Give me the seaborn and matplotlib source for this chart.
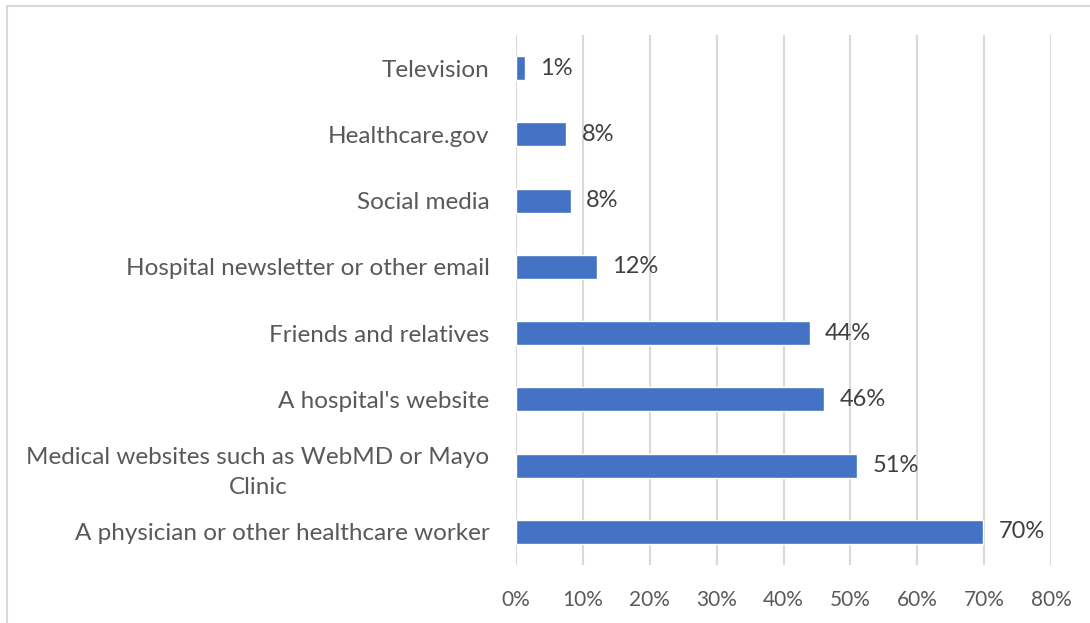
import pandas as pd
import matplotlib.pyplot as plt
import seaborn as sns

# data
sources = ['Television', 'Healthcare.gov', 'Social media', 'Hospital newsletter or other email',
           'Friends and relatives', "A hospital's website",
           'Medical websites such as WebMD or Mayo\nClinic', 'A physician or other healthcare worker']
shares = [1.3, 7.5, 8.2, 12.1, 43.9, 46.1, 51.0, 69.9]
share_labels = ['1%', '8%', '8%', '12%', '44%', '46%', '51%', '70%']

df = pd.DataFrame({'source': sources, 'share': shares})

sns.set_style('white')
plt.rcParams['font.family'] = ['Lato', 'DejaVu Sans']

fig = plt.figure(figsize=(10.9, 6.23), dpi=100)
ax = fig.add_axes([516/1090, 1 - 565/623, (1051-516)/1090, (565-35)/623])

sns.barplot(data=df, y='source', x='share', orient='h', color='#4472C4',
            width=0.36, saturation=1, ax=ax, zorder=3)

ax.set_xlim(0, 80)
ax.set_ylim(7.5, -0.5)
ax.set_xticks(range(0, 81, 10))
ax.set_xticklabels([f'{t}%' for t in range(0, 81, 10)])
ax.grid(axis='x', color='#D9D9D9', linewidth=1.5, zorder=0)
ax.grid(axis='y', visible=False)
for s in ax.spines.values():
    s.set_visible(False)
ax.tick_params(axis='both', length=0, colors='#595959')
ax.tick_params(axis='x', pad=18, labelsize=15)
ax.tick_params(axis='y', pad=19, labelsize=17.5)
for lab in ax.get_yticklabels():
    lab.set_multialignment('center')
    lab.set_linespacing(1.55)
ax.set_xlabel('')
ax.set_ylabel('')

for i, (v, t) in enumerate(zip(shares, share_labels)):
    ax.annotate(t, (v, i), xytext=(11, 0), textcoords='offset points',
                va='center', ha='left', fontsize=17, color='#404040')

# outer chart border
fig.patches.append(plt.Rectangle((7/1090, -0.1), 1.2, 1 - 6/623 + 0.1, transform=fig.transFigure,
                                 fill=False, edgecolor='#D9D9D9', linewidth=1.5))

fig.savefig('out.png', dpi=100)
